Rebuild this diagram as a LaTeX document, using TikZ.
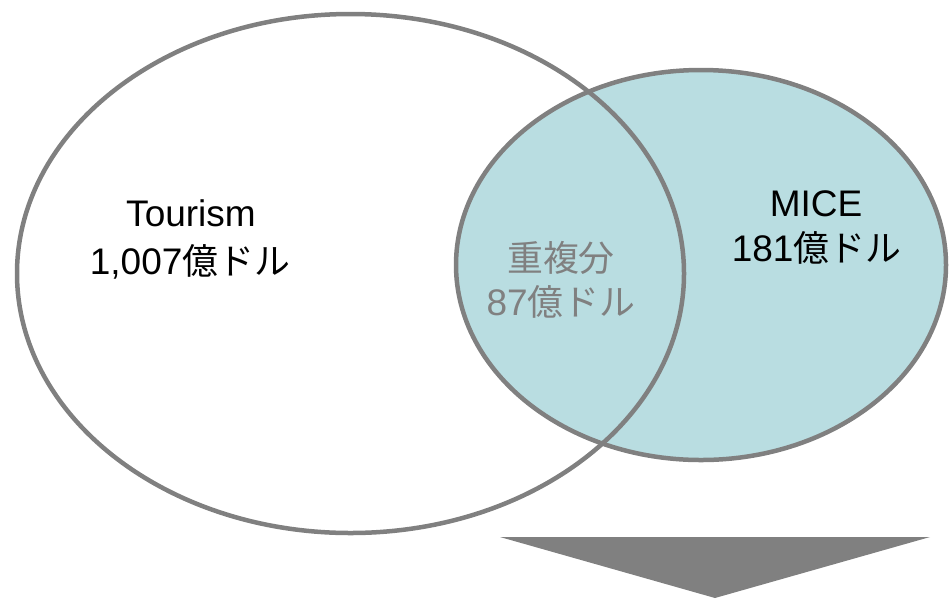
\documentclass[tikz,border=0pt]{standalone}
\usepackage{fontspec}
\setmainfont{Liberation Sans}
\newfontfamily\jpfont{Noto Sans CJK JP}[Scale=0.97]
\definecolor{edgegray}{HTML}{808080}
\definecolor{miceblue}{HTML}{B9DDE1}
\begin{document}
\begin{tikzpicture}[x=1pt,y=-1pt,
  ring/.style={draw=edgegray,line width=4.5pt},
  lbl/.style={anchor=base,inner sep=0pt,font=\fontsize{37}{44}\selectfont},
  lblgray/.style={lbl,text=edgegray}]
\useasboundingbox (0,0) rectangle (949,598);
% MICE ellipse (filled)
\fill[miceblue] (701,265) ellipse [x radius=245, y radius=195];
\draw[ring] (701,265) ellipse [x radius=245, y radius=195];
% Tourism ellipse (outline only)
\draw[ring] (350.5,273.5) ellipse [x radius=333.5, y radius=259.5];
% arrow
\coordinate (al) at (500,537);
\coordinate (ar) at (930,537);
\coordinate (at) at (715,598);
\fill[edgegray] (al) -- (ar) -- (at) -- cycle;
% labels
\node[lbl] (t1) at (191,226.7) {Tourism};
\node[lbl] (t2) at (190,274) {1,007{\jpfont 億ドル}};
\node[lbl] (m1) at (816,216.7) {MICE};
\node[lbl] (m2) at (816.5,261.7) {181{\jpfont 億ドル}};
\node[lblgray] (o1) at (561,271) {\jpfont 重複分};
\node[lblgray] (o2) at (561,315) {87{\jpfont 億ドル}};
\end{tikzpicture}
\end{document}
